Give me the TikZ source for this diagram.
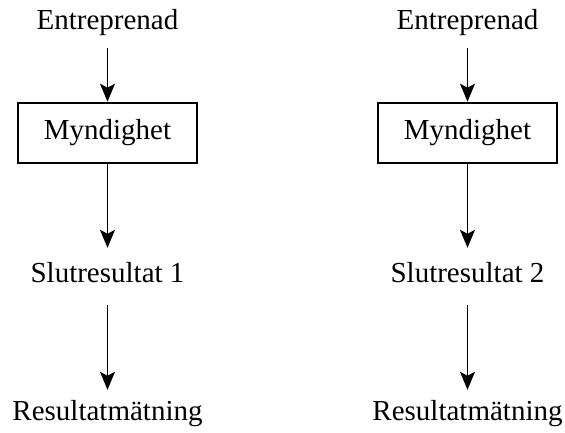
\documentclass[tikz,border=0pt]{standalone}
\usepackage{fontspec}
\setmainfont{Liberation Serif}
\usepackage{tikz}
\usetikzlibrary{arrows.meta, positioning}
\tikzset{
    lbl/.style={inner sep=0pt, text height=20pt, text depth=6.5pt, font=\fontsize{29}{34}\selectfont},
    authbox/.style={rectangle, draw, line width=2.6pt, inner sep=0pt, minimum width=179pt, minimum height=60pt, font=\fontsize{29}{34}\selectfont},
    flow/.style={-{Stealth[length=18pt, width=15pt, inset=4pt]}, line width=1.6pt}
}

\begin{document}
\begin{tikzpicture}[x=1pt, y=1pt]
    \useasboundingbox (0,0) rectangle (565,432);

    % Left chain
    \node[lbl, anchor=base] (ent1) at (107.5,402) {Entreprenad};
    \node[authbox] (myn1) at (107.5,299) {Myndighet};
    \node[lbl, anchor=base] (slut1) at (107.5,150) {Slutresultat 1};
    \node[lbl, anchor=base] (res1) at (107.5,12) {Resultatmätning};

    % Right chain
    \node[lbl, anchor=base] (ent2) at (467.5,402) {Entreprenad};
    \node[authbox] (myn2) at (467.5,299) {Myndighet};
    \node[lbl, anchor=base] (slut2) at (467.5,150) {Slutresultat 2};
    \node[lbl, anchor=base] (res2) at (467.5,12) {Resultatmätning};

    % Arrows
    \draw[flow, shorten <=11.5pt] (ent1) -- (myn1);
    \draw[flow, shorten >=14pt] (myn1) -- (slut1);
    \draw[flow, shorten <=16.5pt, shorten >=10pt] (slut1) -- (res1);

    \draw[flow, shorten <=11.5pt] (ent2) -- (myn2);
    \draw[flow, shorten >=14pt] (myn2) -- (slut2);
    \draw[flow, shorten <=16.5pt, shorten >=10pt] (slut2) -- (res2);
\end{tikzpicture}
\end{document}
